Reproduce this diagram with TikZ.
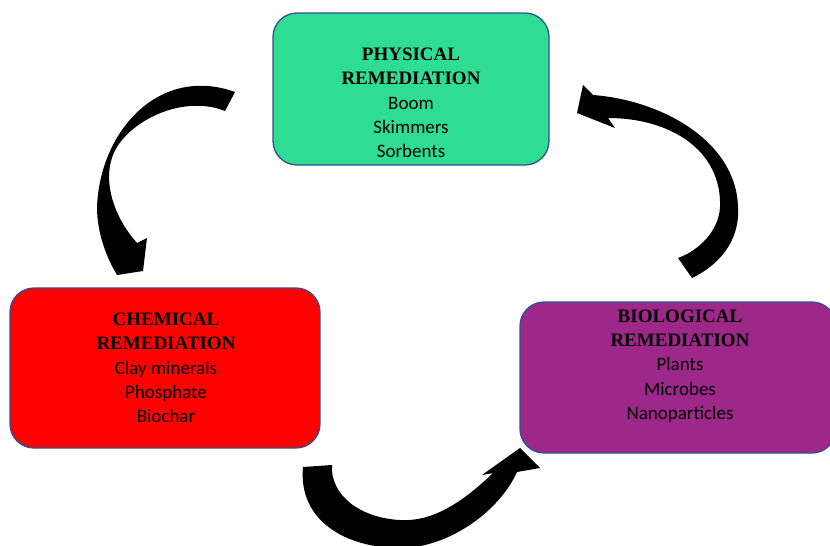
\documentclass[tikz,border=0pt]{standalone}
\usepackage{fontspec}
\setmainfont{Carlito}
\newfontfamily\titlefam{Liberation Serif}
\definecolor{physgreen}{RGB}{47,220,148}
\definecolor{chemred}{RGB}{255,0,0}
\definecolor{biopurple}{RGB}{158,40,138}
\definecolor{boxborder}{RGB}{47,82,143}
\tikzset{
  boxshape/.style={draw=boxborder, line width=1.3pt, rounded corners=24pt, inner sep=0pt},
  boxtext/.style={align=center, font=\fontsize{19}{24.3}\selectfont, text=black, inner sep=0pt},
  arrowfill/.style={fill=black, draw=none}
}
\newcommand{\ttl}[1]{{\titlefam\bfseries\fontsize{19}{24.3}\selectfont #1}}
\begin{document}
\begin{tikzpicture}[x=1pt,y=-1pt]
\useasboundingbox (0,0) rectangle (830,546);
\begin{scope}
\clip (0,0) rectangle (830,546);
% boxes
\node[boxshape, fill=physgreen, minimum width=276pt, minimum height=152pt] (phys) at (411,89) {};
\node[boxshape, fill=chemred, minimum width=310pt, minimum height=160pt] (chem) at (165,368) {};
\node[boxshape, fill=biopurple, minimum width=316pt, minimum height=151pt] (bio) at (678,377.5) {};
% texts
\node[boxtext] (physt) at (411,103) {\ttl{PHYSICAL}\\\ttl{REMEDIATION}\\Boom\\Skimmers\\Sorbents};
\node[boxtext] (chemt) at (166,368) {\ttl{CHEMICAL}\\\ttl{REMEDIATION}\\Clay minerals\\Phosphate\\Biochar};
\node[boxtext] (biot) at (680,366) {\ttl{BIOLOGICAL}\\\ttl{REMEDIATION}\\Plants\\Microbes\\Nanoparticles};
% arrow 1: physical -> chemical
\fill[arrowfill] (235,92) .. controls (160,65) and (100,130) .. (97,207)
  .. controls (97,235) and (108,260) .. (117,275)
  -- (143,271) -- (147,238) -- (137,243)
  .. controls (112,215) and (100,175) .. (117,147)
  .. controls (135,118) and (185,95) .. (225,111) -- cycle;
% arrow 2: biological -> physical
\fill[arrowfill] (692,278) .. controls (725,262) and (740,235) .. (738,207)
  .. controls (736,140) and (660,100) .. (593,95)
  -- (583,85) -- (577,113) -- (615,128) -- (608,118)
  .. controls (670,118) and (722,150) .. (720,207)
  .. controls (719,230) and (700,250) .. (678,258) -- cycle;
% arrow 3: chemical -> biological
\fill[arrowfill] (303,467) .. controls (298,520) and (345,548) .. (400,548)
  .. controls (450,548) and (500,510) .. (517,472)
  -- (540,468) -- (520,448) -- (482,475) -- (493,473)
  .. controls (460,505) and (430,522) .. (400,520)
  .. controls (360,518) and (330,495) .. (332,465) -- cycle;
\end{scope}
\end{tikzpicture}
\end{document}
